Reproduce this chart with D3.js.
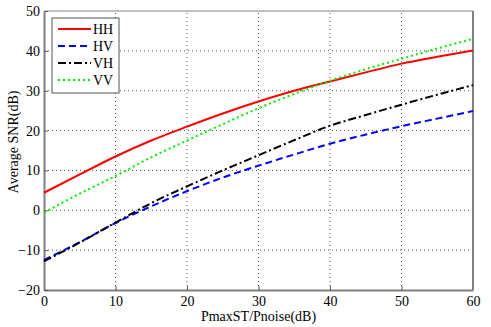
<!DOCTYPE html>
<html>
<head>
  <meta charset="utf-8">
  <script src="https://d3js.org/d3.v7.min.js"></script>
  <style>
    body { margin: 0; background: #fff; }
  </style>
</head>
<body>
<script>
// x values (dB) and series
var xVals = [0, 5, 10, 15, 20, 25, 30, 35, 40, 45, 50, 55, 60];
var HH = [4.4, 9.0, 13.5, 17.5, 21.0, 24.3, 27.3, 30.0, 32.3, 34.6, 36.8, 38.5, 40.1];
var HV = [-12.5, -8.0, -3.2, 1.0, 4.8, 8.2, 11.2, 14.0, 16.7, 19.0, 21.1, 23.0, 24.9];
var VH = [-12.8, -8.1, -3.1, 1.8, 6.0, 10.0, 13.8, 17.6, 21.2, 23.9, 26.5, 29.0, 31.4];
var VV = [-0.6, 4.2, 8.6, 13.3, 17.5, 21.6, 25.6, 29.2, 32.5, 35.4, 38.0, 40.6, 43.0];
var xTicks = [0, 10, 20, 30, 40, 50, 60];
var yTicks = [-20, -10, 0, 10, 20, 30, 40, 50];
var names = ["HH", "HV", "VH", "VV"];

var FONT = "'Liberation Serif'";
var W = 491, H = 327;
var margin = {left: 44, right: 18, top: 11, bottom: 37};

var svg = d3.select("body").append("svg").attr("width", W).attr("height", H);

var x = d3.scaleLinear().domain([0, 60]).range([margin.left, W - margin.right]);
var y = d3.scaleLinear().domain([-20, 50]).range([H - margin.bottom, margin.top]);

// grid
svg.append("g").selectAll("line.gx")
  .data(xTicks.slice(1, -1)).enter().append("line")
  .attr("x1", function(d) { return x(d); }).attr("x2", function(d) { return x(d); })
  .attr("y1", y(-20)).attr("y2", y(50))
  .attr("stroke", "#555").attr("stroke-width", 1).attr("stroke-dasharray", "1,3");
svg.append("g").selectAll("line.gy")
  .data(yTicks.slice(1, -1)).enter().append("line")
  .attr("y1", function(d) { return y(d); }).attr("y2", function(d) { return y(d); })
  .attr("x1", x(0)).attr("x2", x(60))
  .attr("stroke", "#555").attr("stroke-width", 1).attr("stroke-dasharray", "1,3");

// axes
var xAxis = svg.append("g").attr("transform", "translate(0," + y(-20) + ")")
  .call(d3.axisBottom(x).tickValues(xTicks).tickSizeInner(-4).tickSizeOuter(0).tickPadding(4));
var yAxis = svg.append("g").attr("transform", "translate(" + x(0) + ",0)")
  .call(d3.axisLeft(y).tickValues(yTicks).tickSizeInner(-4).tickSizeOuter(0).tickPadding(4));
[xAxis, yAxis].forEach(function(a) {
  a.select(".domain").attr("stroke", "#808080").attr("stroke-width", 2);
  a.selectAll(".tick line").attr("stroke", "#555");
  a.selectAll("text").style("font-family", FONT).style("font-size", "14px").attr("fill", "#000");
});
xAxis.selectAll("text").attr("dy", "0.85em");

// top & right box
svg.append("line").attr("x1", x(0)).attr("x2", x(60)).attr("y1", y(50)).attr("y2", y(50))
  .attr("stroke", "#808080").attr("stroke-width", 1);
svg.append("line").attr("x1", x(60)).attr("x2", x(60)).attr("y1", y(50)).attr("y2", y(-20))
  .attr("stroke", "#808080").attr("stroke-width", 2);

// series
var styles = {
  HH: {color: "#ff0000", dash: null},
  HV: {color: "#0000ff", dash: "7,4"},
  VH: {color: "#000000", dash: "8,3,2,3"},
  VV: {color: "#00ee00", dash: "2,3"}
};
var seriesData = {HH: HH, HV: HV, VH: VH, VV: VV};
var line = d3.line()
  .x(function(d) { return x(d[0]); })
  .y(function(d) { return y(d[1]); })
  .curve(d3.curveMonotoneX);

names.forEach(function(n) {
  var pts = xVals.map(function(v, i) { return [v, seriesData[n][i]]; });
  svg.append("path").datum(pts)
    .attr("d", line)
    .attr("fill", "none")
    .attr("stroke", styles[n].color)
    .attr("stroke-width", 2)
    .attr("stroke-dasharray", styles[n].dash);
});

// legend
var lg = svg.append("g");
lg.append("rect").attr("x", 52).attr("y", 18).attr("width", 67).attr("height", 75)
  .attr("fill", "#fff").attr("stroke", "#555").attr("stroke-width", 1);
names.forEach(function(n, i) {
  var ly = 29 + i * 17;
  lg.append("line").attr("x1", 58).attr("x2", 91).attr("y1", ly).attr("y2", ly)
    .attr("stroke", styles[n].color).attr("stroke-width", 2)
    .attr("stroke-dasharray", styles[n].dash);
  lg.append("text").attr("x", 93).attr("y", ly + 5)
    .style("font-family", FONT).style("font-size", "14px").text(n);
});

// axis labels
svg.append("text").attr("x", (x(0) + x(60)) / 2).attr("y", 321)
  .attr("text-anchor", "middle").style("font-family", FONT).style("font-size", "14px")
  .text("PmaxST/Pnoise(dB)");
svg.append("text").attr("transform", "translate(18,142) rotate(-90)")
  .attr("text-anchor", "middle").style("font-family", FONT).style("font-size", "14px")
  .text("Average SNR(dB)");
</script>
</body>
</html>
